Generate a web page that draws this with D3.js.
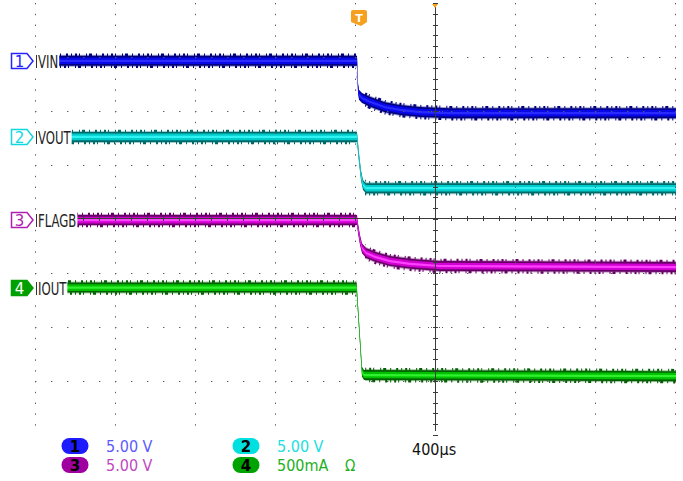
<!DOCTYPE html>
<html>
<head>
<meta charset="utf-8">
<script src="https://cdn.jsdelivr.net/npm/d3@7"></script>
<style>
  body { margin: 0; background: #fff; }
  .lbl { font-family: "DejaVu Sans Condensed", "DejaVu Sans", sans-serif; font-stretch: condensed; }
</style>
</head>
<body>
<svg id="scope" width="683" height="481"></svg>
<script>
// trace samples: [time in µs from screen centre, level in divisions from centre]
const vinPts = [[-2000, 2.93], [-390, 2.93], [-387.5, 2.67], [-385, 2.43], [-380, 2.30], [-365, 2.24],
  [-325, 2.17], [-250, 2.07], [-175, 2.02], [-75, 1.98], [75, 1.96], [1205, 1.96]];
const voutPts = [[-2000, 1.52], [-390, 1.52], [-380, 1.13], [-370, 0.81], [-360, 0.63], [-345, 0.57], [1205, 0.57]];
const flagbPts = [[-2000, -0.02], [-390, -0.02], [-385, -0.17], [-375, -0.39], [-365, -0.54], [-345, -0.63],
  [-300, -0.70], [-225, -0.78], [-125, -0.83], [25, -0.87], [1205, -0.89]];
const ioutPts = [[-2000, -1.27], [-392, -1.27], [-365, -2.83], [-355, -2.89], [1205, -2.91]];

const chNames = ["VIN", "VOUT", "FLAGB", "IOUT"];
const chNums = ["1", "2", "3", "4"];
const chScales = ["5.00 V", "5.00 V", "5.00 V", "500mA"];
const timebase = "400µs";
const triggerTime = -390;

const svg = d3.select("#scope");
const x = d3.scaleLinear().domain([-2000, 1200]).range([35, 675]);
const y = d3.scaleLinear().domain([-4, 4]).range([435, 3]);

const traces = [
  { pts: vinPts, dark: "#00007e", mid: "#0808e8", core: "#2a2aff", mark: "#2424ff" },
  { pts: voutPts, dark: "#006a6a", mid: "#00cccc", core: "#30f4f4", mark: "#10d8e0" },
  { pts: flagbPts, dark: "#660066", mid: "#d000d0", core: "#ff40ff", mark: "#b020b0" },
  { pts: ioutPts, dark: "#006000", mid: "#00c000", core: "#30f030", mark: "#00a000" }
];

// keep the noise fringe off the fast edges
const clip = svg.append("defs").append("clipPath").attr("id", "flat");
clip.append("rect").attr("x", 0).attr("y", 0).attr("width", x(-394)).attr("height", 481);
clip.append("rect").attr("x", x(-350)).attr("y", 0).attr("width", 683 - x(-350)).attr("height", 481);

// traces as ribbons so that steep edges stay thin
const band = h => d3.area()
  .x(d => x(d[0]))
  .y0(d => y(d[1]) - h)
  .y1(d => y(d[1]) + h);
const edge = o => d3.line().x(d => x(d[0])).y(d => y(d[1]) + o);

const traceG = svg.append("g");
traces.forEach((t, i) => {
  traceG.append("path").attr("d", band(6)(t.pts)).attr("fill", t.dark).attr("opacity", 0.35)
    .attr("clip-path", "url(#flat)");
  [-6, 6].forEach((o, k) => {
    traceG.append("path").attr("d", edge(o)(t.pts)).attr("fill", "none")
      .attr("clip-path", "url(#flat)")
      .attr("stroke", t.dark).attr("stroke-width", 2.5)
      .attr("stroke-dasharray", "1 3 2 2 1 6 1 2 3 4 1 5 2 3")
      .attr("stroke-dashoffset", i * 7 + k * 11);
  });
  traceG.append("path").attr("d", band(5)(t.pts)).attr("fill", t.dark);
  traceG.append("path").attr("d", band(3.3)(t.pts)).attr("fill", t.mid);
  traceG.append("path").attr("d", band(1.1)(t.pts)).attr("fill", t.core);
});

// graticule
const grid = svg.append("g").attr("stroke", "#5a5a5a");
d3.range(-2000, 1201, 400).forEach(t => {
  if (t === 0) return;
  grid.append("line")
    .attr("x1", x(t) + 0.5).attr("x2", x(t) + 0.5)
    .attr("y1", y(4)).attr("y2", y(-4) - 2)
    .attr("stroke-width", 1).attr("stroke-dasharray", "1.4 9.4");
});
d3.range(-3, 4).forEach(v => {
  if (v === 0) return;
  grid.append("line")
    .attr("x1", x(-2000)).attr("x2", x(1200) + 1)
    .attr("y1", y(v) + 0.5).attr("y2", y(v) + 0.5)
    .attr("stroke-width", 1).attr("stroke-dasharray", "1.4 14.6");
  [-7, -4, 4, 7].forEach(o => {
    grid.append("rect").attr("x", x(0) + o).attr("y", y(v)).attr("width", 1).attr("height", 1)
      .attr("fill", "#5a5a5a").attr("stroke", "none");
  });
});

// centre axes with minor ticks
const axisG = svg.append("g").attr("stroke", "#3a3a3a").attr("stroke-width", 1);
axisG.append("line").attr("x1", x(0) + 0.5).attr("x2", x(0) + 0.5).attr("y1", 7).attr("y2", y(-4) - 4);
axisG.append("line").attr("x1", x(-2000)).attr("x2", x(1200)).attr("y1", y(0) - 0.5).attr("y2", y(0) - 0.5);
d3.range(-4, 4.01, 0.2).forEach(v => {
  axisG.append("line").attr("x1", x(0) - 2).attr("x2", x(0) + 3)
    .attr("y1", Math.round(y(v)) + 0.5).attr("y2", Math.round(y(v)) + 0.5);
});
d3.range(-2000, 1201, 80).forEach(t => {
  axisG.append("line").attr("x1", Math.round(x(t)) + 0.5).attr("x2", Math.round(x(t)) + 0.5)
    .attr("y1", y(0) - 3).attr("y2", y(0) + 2);
});

// trigger markers
svg.append("path")
  .attr("d", `M${x(0) - 3},4 L${x(0) + 3},4 L${x(0)},8 Z`)
  .attr("fill", "#f5a01e");
const tx = x(triggerTime);
svg.append("path")
  .attr("d", `M${tx - 6},12 Q${tx - 6},10 ${tx - 4},10 L${tx + 8},10 Q${tx + 10},10 ${tx + 10},12 L${tx + 10},22 L${tx + 4},26 L${tx - 6},22 Z`)
  .attr("fill", "#f5a01e");
svg.append("text").attr("x", tx + 2).attr("y", 22).attr("text-anchor", "middle")
  .attr("font-family", "DejaVu Sans").attr("font-weight", "bold").attr("font-size", 11)
  .attr("fill", "#fff").text("T");

// channel markers and names at the left
traces.forEach((t, i) => {
  const cy = Math.round(y(t.pts[0][1]));
  const filled = i === 3;
  svg.append("path")
    .attr("d", `M11.5,${cy - 7.5} L27,${cy - 7.5} L33,${cy} L27,${cy + 7.5} L11.5,${cy + 7.5} Z`)
    .attr("fill", filled ? t.mark : "#fff").attr("stroke", t.mark).attr("stroke-width", 1.5);
  svg.append("text").attr("x", 19.5).attr("y", cy + 6).attr("text-anchor", "middle")
    .attr("font-family", "DejaVu Sans").attr("font-size", 15)
    .attr("fill", filled ? "#fff" : t.mark).text(chNums[i]);
  const name = svg.append("text").attr("class", "lbl")
    .attr("transform", `translate(38,${cy + 6.5}) scale(1,1.38)`)
    .attr("font-size", 13).attr("fill", "#222").text(chNames[i]);
  const w = name.node().getComputedTextLength();
  svg.insert("rect", "text").attr("x", 35).attr("y", cy - 8).attr("width", w + 4).attr("height", 16).attr("fill", "#fff");
  svg.append("line").attr("x1", 36.5).attr("x2", 36.5).attr("y1", cy - 6).attr("y2", cy + 7)
    .attr("stroke", "#333").attr("stroke-width", 1);
});

// bottom readout
const badgeFill = ["#1c1cff", "#00e0e0", "#a000a0", "#00a400"];
const readColor = ["#5a5aff", "#22dede", "#c048c0", "#22b022"];
const slot = [[75, 446], [246, 446], [75, 465], [246, 465]];
chScales.forEach((s, i) => {
  const [bx, by] = slot[i];
  svg.append("rect").attr("x", bx - 13.5).attr("y", by - 8).attr("width", 27).attr("height", 16)
    .attr("rx", 8).attr("fill", badgeFill[i]);
  svg.append("text").attr("x", bx).attr("y", by + 6).attr("text-anchor", "middle")
    .attr("font-family", "DejaVu Sans").attr("font-weight", "bold").attr("font-size", 15)
    .attr("fill", "#000").text(chNums[i]);
  svg.append("text").attr("class", "lbl").attr("x", bx + 31).attr("y", by + 6)
    .attr("font-size", 16).attr("fill", readColor[i]).text(s);
});
svg.append("text").attr("class", "lbl").attr("x", 345).attr("y", 471)
  .attr("font-size", 15).attr("fill", readColor[3]).text("Ω");
svg.append("text").attr("class", "lbl").attr("x", 412).attr("y", 455)
  .attr("font-size", 16).attr("fill", "#111").text(timebase);
</script>
</body>
</html>
